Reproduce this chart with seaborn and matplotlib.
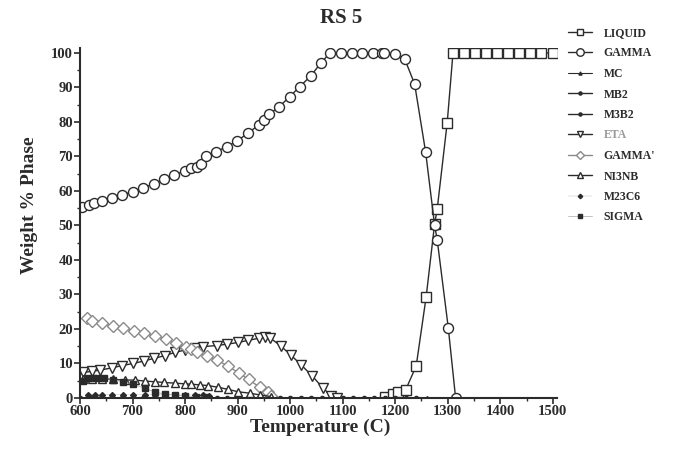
import matplotlib
matplotlib.use("Agg")
import matplotlib.pyplot as plt
import seaborn as sns
import pandas as pd
from matplotlib.ticker import MultipleLocator

# ---------------- data ----------------
liquid_t = [1180, 1195, 1205, 1220, 1240, 1259, 1275, 1280, 1299, 1310, 1331, 1352, 1373,
            1394, 1415, 1436, 1457, 1478, 1500]
liquid_w = [0.3, 1.2, 1.6, 2.4, 9.3, 29.4, 50.4, 54.8, 79.8, 100, 100, 100, 100,
            100, 100, 100, 100, 100, 100]

gamma_t = [603, 618, 626, 641, 660, 679, 700, 720, 741, 760, 779, 800, 811, 822, 831, 839,
           859, 879, 899, 919, 940, 950, 960, 979, 999, 1018, 1039, 1058, 1075, 1097, 1118,
           1137, 1158, 1174, 1179, 1199, 1218, 1237, 1258, 1275, 1280, 1301, 1315]
gamma_w = [55.5, 56.0, 56.5, 57.0, 57.9, 58.8, 59.8, 61.0, 62.0, 63.4, 64.6, 65.9, 66.6,
           67.0, 67.8, 70.1, 71.4, 72.8, 74.5, 76.7, 79.1, 80.6, 82.2, 84.4, 87.3, 90.2,
           93.3, 97.0, 99.9, 100, 100, 100, 100, 100, 100, 99.6, 98.3, 91.0, 71.2, 50.1,
           45.8, 20.4, 0.0]

mc_t = [960, 980, 1000, 1020, 1040, 1060, 1080, 1100, 1120, 1140, 1160, 1180, 1200, 1220,
        1240, 1260]
mc_w = [0.0] * len(mc_t)

mb2_t = [600, 640, 680, 720, 760, 800, 840, 880, 920, 960, 1000, 1040, 1080, 1120, 1160,
         1200, 1240]
mb2_w = [0.0] * len(mb2_t)

m3b2_t = [620, 660, 700, 740, 780, 820, 860, 900, 940, 980, 1020, 1060, 1100, 1140, 1180,
          1220]
m3b2_w = [0.0] * len(m3b2_t)

eta_t = [606, 622, 638, 660, 680, 701, 721, 741, 762, 780, 800, 819, 835, 860, 880, 901,
         920, 940, 952, 962, 982, 1001, 1021, 1042, 1063, 1078, 1090]
eta_w = [7.4, 7.7, 8.1, 8.7, 9.4, 10.0, 10.7, 11.5, 12.3, 13.2, 13.9, 14.6, 14.9, 15.2,
         15.6, 16.1, 16.7, 17.3, 17.6, 17.4, 15.1, 12.5, 9.6, 6.4, 2.8, 0.7, 0.0]

gammap_t = [613, 622, 641, 662, 682, 703, 722, 742, 763, 783, 802, 811, 822, 841, 861, 881,
            902, 921, 942, 958, 964]
gammap_w = [23.2, 22.4, 21.6, 20.9, 20.2, 19.5, 18.7, 18.0, 17.0, 15.8, 14.7, 14.1, 13.4,
            12.2, 11.0, 9.3, 7.3, 5.4, 3.1, 1.8, 0.5]

ni3nb_t = [605, 622, 641, 662, 686, 705, 724, 743, 760, 781, 800, 812, 828, 844, 863, 882,
           901, 923, 942, 964]
ni3nb_w = [5.6, 5.6, 5.5, 5.4, 5.2, 5.2, 4.9, 4.7, 4.5, 4.3, 4.1, 4.0, 3.8, 3.6, 3.1, 2.5,
           1.8, 1.4, 0.9, 0.4]

m23c6_t = [615, 628, 642, 661, 682, 701, 723, 742, 762, 781, 800, 819, 835, 845]
m23c6_w = [1.0, 1.0, 1.0, 1.0, 1.0, 1.0, 1.0, 0.9, 0.9, 0.9, 0.9, 0.9, 0.8, 0.6]

sigma_t = [605, 615, 625, 635, 645, 663, 682, 701, 723, 742, 762, 781, 800, 820, 840]
sigma_w = [5.0, 5.8, 5.9, 5.9, 5.8, 5.2, 4.7, 4.0, 2.8, 1.8, 1.1, 0.9, 0.6, 0.4, 0.2]

labels = ["LIQUID", "GAMMA", "MC", "MB2", "M3B2", "ETA", "GAMMA'", "NI3NB", "M23C6", "SIGMA"]
xticks = [600, 700, 800, 900, 1000, 1100, 1200, 1300, 1400, 1500]
yticks = [0, 10, 20, 30, 40, 50, 60, 70, 80, 90, 100]

# ---------------- style ----------------
sns.set_theme(style="ticks")
plt.rcParams["font.family"] = ["Liberation Serif", "DejaVu Serif"]
plt.rcParams["font.weight"] = "bold"
plt.rcParams["axes.labelweight"] = "bold"

INK = "#2b2b2b"
LIGHT = "#8a8a8a"

fig = plt.figure(figsize=(6.74, 4.51), dpi=100)
ax = fig.add_axes([80 / 674, 53 / 451, 477 / 674, 350.2 / 451])

series = [
    (liquid_t, liquid_w, "s", 6.5, "white", INK, 1.0, INK),
    (gamma_t, gamma_w, "o", 7.2, "white", INK, 1.0, INK),
    (mc_t, mc_w, "^", 3.0, INK, INK, 0.8, INK),
    (mb2_t, mb2_w, "o", 3.0, INK, INK, 1.0, INK),
    (m3b2_t, m3b2_w, "o", 3.0, INK, INK, 1.0, INK),
    (eta_t, eta_w, "v", 6.5, "white", INK, 1.0, INK),
    (gammap_t, gammap_w, "D", 6.0, "white", LIGHT, 1.0, LIGHT),
    (ni3nb_t, ni3nb_w, "^", 6.0, "white", INK, 1.0, INK),
    (m23c6_t, m23c6_w, "D", 3.0, INK, INK, 0.3, "#bbbbbb"),
    (sigma_t, sigma_w, "s", 4.5, INK, INK, 0.5, "#aaaaaa"),
]

for lab, (t, w, mk, ms, fc, ec, lw, lc) in zip(labels, series):
    df = pd.DataFrame({"T": t, "W": w})
    sns.lineplot(data=df, x="T", y="W", ax=ax, color=lc, lw=lw, marker=mk,
                 markersize=ms, markerfacecolor=fc, markeredgecolor=ec,
                 markeredgewidth=1.0, label=lab, estimator=None, legend=False)

ax.set_xlim(600, 1508)
ax.set_ylim(0, 101.5)
ax.set_xticks(xticks)
ax.set_yticks(yticks)
ax.xaxis.set_minor_locator(MultipleLocator(50))
ax.yaxis.set_minor_locator(MultipleLocator(5))
ax.tick_params(axis="both", which="major", direction="out", length=4, width=1.2,
               colors=INK, labelsize=10.5, pad=1)
ax.tick_params(axis="both", which="minor", direction="out", length=2, width=1.0, colors=INK)
for lbl in ax.get_xticklabels() + ax.get_yticklabels():
    lbl.set_fontweight("bold")
    lbl.set_color(INK)
sns.despine(ax=ax)
for sp in ("left", "bottom"):
    ax.spines[sp].set_linewidth(1.5)
    ax.spines[sp].set_color(INK)
ax.set_xlabel("")
ax.set_ylabel("")

fig.text(341 / 674, 1 - 18 / 451, "RS 5", ha="center", va="center", fontsize=15,
         fontweight="bold", color=INK)
fig.text(320 / 674, 1 - 427 / 451, "Temperature (C)", ha="center", va="center",
         fontsize=14, fontweight="bold", color=INK)
fig.text(30 / 674, 1 - 205 / 451, "Weight % Phase", ha="center", va="center",
         fontsize=14, fontweight="bold", color=INK, rotation=90)

handles, hl = ax.get_legend_handles_labels()
leg = fig.legend(handles, hl, loc="upper left", bbox_to_anchor=(568 / 674, 1 - 27 / 451),
                 frameon=False, prop={"weight": "bold", "size": 8.5}, markerscale=0.75,
                 handlelength=2.0, handletextpad=1.0, labelspacing=0.72, borderpad=0,
                 borderaxespad=0)
for txt, lab in zip(leg.get_texts(), hl):
    txt.set_color("#9a9a9a" if lab == "ETA" else INK)

fig.savefig("out.png", dpi=100, facecolor="white")
